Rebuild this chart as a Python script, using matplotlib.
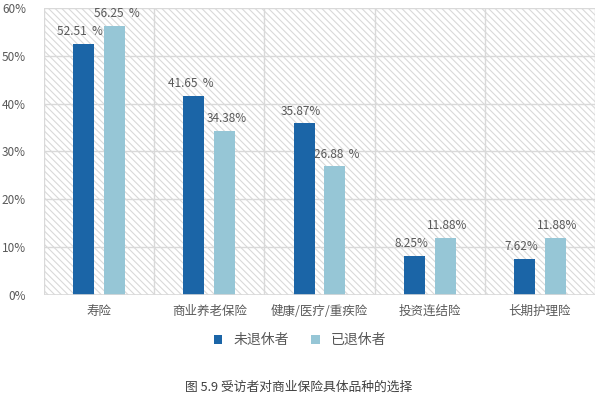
import numpy as np
import matplotlib.pyplot as plt
from matplotlib.patches import Rectangle

plt.rcParams['font.family'] = ['Noto Sans CJK SC', 'DejaVu Sans']
plt.rcParams['hatch.linewidth'] = 0.8

categories = ['寿险', '商业养老保险', '健康/医疗/重疾险', '投资连结险', '长期护理险']
not_retired = [52.51, 41.65, 35.87, 8.25, 7.62]
retired = [56.25, 34.38, 26.88, 11.88, 11.88]
labels_not = ['52.51  %', '41.65  %', '35.87%', '8.25%', '7.62%']
labels_ret = ['56.25  %', '34.38%', '26.88  %', '11.88%', '11.88%']

dark = '#1B65A7'
light = '#96C6D6'
grid_c = '#D9D9D9'
text_c = '#595959'

fig = plt.figure(figsize=(6, 3.99), dpi=100)
ax = fig.add_axes([0.0733, 0.2607, 0.9184, 0.7193])

# hatched background
ax.add_patch(Rectangle((0, 0), 1, 1, transform=ax.transAxes, fill=False,
                       hatch='\\\\\\\\\\', edgecolor=grid_c, lw=0, zorder=0))

x = np.arange(len(categories))
w = 0.19
off = 0.14
ax.bar(x - off, not_retired, w, color=dark, zorder=3, label='未退休者')
ax.bar(x + off, retired, w, color=light, zorder=3, label='已退休者')

for i in range(len(categories)):
    ax.text(x[i] - off - 0.03, not_retired[i] + 1.2, labels_not[i], ha='center',
            va='bottom', fontsize=8.5, color=text_c)
    ax.text(x[i] + off + 0.02, retired[i] + 1.2, labels_ret[i], ha='center',
            va='bottom', fontsize=8.5, color=text_c)

ax.set_xlim(-0.5, 4.5)
ax.set_ylim(0, 60)
ax.set_yticks(range(0, 61, 10))
ax.set_yticklabels([f'{v}%' for v in range(0, 61, 10)])
ax.set_xticks(x)
ax.set_xticklabels(categories)
ax.tick_params(length=0, labelsize=8.5, labelcolor=text_c)
ax.tick_params(axis='x', labelsize=9, pad=7)
ax.tick_params(axis='y', pad=13)

for v in range(10, 61, 10):
    ax.axhline(v, color=grid_c, lw=1, zorder=1)
for b in np.arange(-0.5, 4.6, 1):
    ax.axvline(b, color=grid_c, lw=1, zorder=1)
for s in ax.spines.values():
    s.set_visible(False)
ax.axhline(0, color=grid_c, lw=1.2, zorder=4)

ax.legend(loc='upper center', bbox_to_anchor=(0.465, -0.09), ncol=2, frameon=False,
          fontsize=10, handlelength=0.6, handleheight=0.6, columnspacing=1.6,
          handletextpad=0.8, labelcolor=text_c)

fig.text(0.498, 0.03, '图 5.9 受访者对商业保险具体品种的选择', ha='center', va='center',
         fontsize=9.2, color='#404040')

fig.savefig('out.png', dpi=100)
